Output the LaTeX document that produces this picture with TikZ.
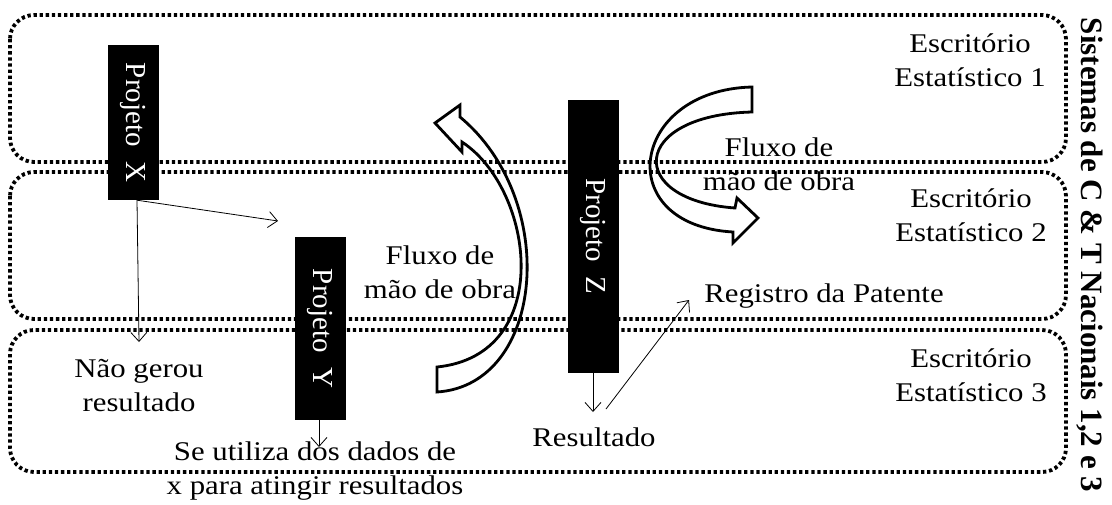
\documentclass[tikz,border=0pt]{standalone}
\usepackage{fontspec}
\setmainfont[FakeStretch=1.14]{Liberation Serif}
\newfontfamily\rotfont{Liberation Serif}
\usetikzlibrary{arrows.meta}
\begin{document}
\begin{tikzpicture}[x=1pt,y=-1pt,
 dotbox/.style={line width=3.8pt, dash pattern=on 3.3pt off 2.8pt, rounded corners=24pt},
 proj/.style={fill=black, text=white, rotate=-90, inner sep=0pt, minimum height=51pt, font=\rotfont\fontsize{29}{32}\selectfont},
 lbl/.style={align=center, inner sep=0pt, font=\fontsize{27}{34}\selectfont},
 conn/.style={line width=0.8pt, -{Straight Barb[length=9pt,width=16pt,line width=0.8pt]}},
 blk/.style={line width=2.8pt, line join=miter}]
\useasboundingbox (0,0) rectangle (1112,504);
% office boxes
\draw[dotbox] (10,15) rectangle (1066,162);
\draw[dotbox] (10,172) rectangle (1066,319);
\draw[dotbox] (10,330) rectangle (1066,472);
% projects
\node[proj, minimum width=155pt] (px) at (133,122.5) {Projeto\ \ X};
\node[proj, minimum width=183pt] (py) at (320,328.5) {Projeto\ \ Y};
\node[proj, minimum width=273pt] (pz) at (593,236.5) {Projeto\ \ Z};
% labels
\node[lbl] (e1) at (970,60) {Escritório\\Estatístico 1};
\node[lbl] (e2) at (971,215) {Escritório\\Estatístico 2};
\node[lbl] (e3) at (971,375) {Escritório\\Estatístico 3};
\node[lbl] (f1) at (779,164) {Fluxo de\\mão de obra};
\node[lbl] (f2) at (440,272) {Fluxo de\\mão de obra};
\node[lbl] (rp) at (824,296) {Registro da Patente};
\node[lbl] (res) at (594,437) {Resultado};
\node[lbl] (ng) at (139,386) {Não gerou\\resultado};
\node[lbl] (su) at (315,471) {Se utiliza dos dados de\\x para atingir resultados};
\node[rotate=-90, inner sep=0pt, font=\rotfont\fontsize{31}{34}\selectfont\bfseries] (sis) at (1090,255) {Sistemas de C \& T Nacionais 1,2 e 3};
% connectors
\coordinate (a1) at (278,221);
\coordinate (a2) at (139,342);
\coordinate (a3) at (319,447);
\coordinate (a4) at (593,412);
\coordinate (a5) at (606,409);
\coordinate (a6) at (689,300);
\draw[conn] ([xshift=4pt]px.east) -- (a1);
\draw[conn] ([xshift=4pt]px.east) -- (a2);
\draw[conn] ([xshift=-1pt]py.east) -- (a3);
\draw[conn] (pz.east) -- (a4);
\draw[conn] (a5) -- (a6);
% block arrows
\draw[blk] (437,367) -- (437,392) .. controls (545,385) and (560,200) .. (460,117) -- (460,105) -- (435,123) -- (462,152) -- (462,142) .. controls (535,190) and (555,355) .. (437,367) -- cycle;
\draw[blk] (752,87) -- (752,112) .. controls (630,115) and (625,200) .. (735,208) -- (737,198) -- (758,218) -- (733,243) -- (733,232) .. controls (610,225) and (630,90) .. (752,87) -- cycle;
\end{tikzpicture}
\end{document}
